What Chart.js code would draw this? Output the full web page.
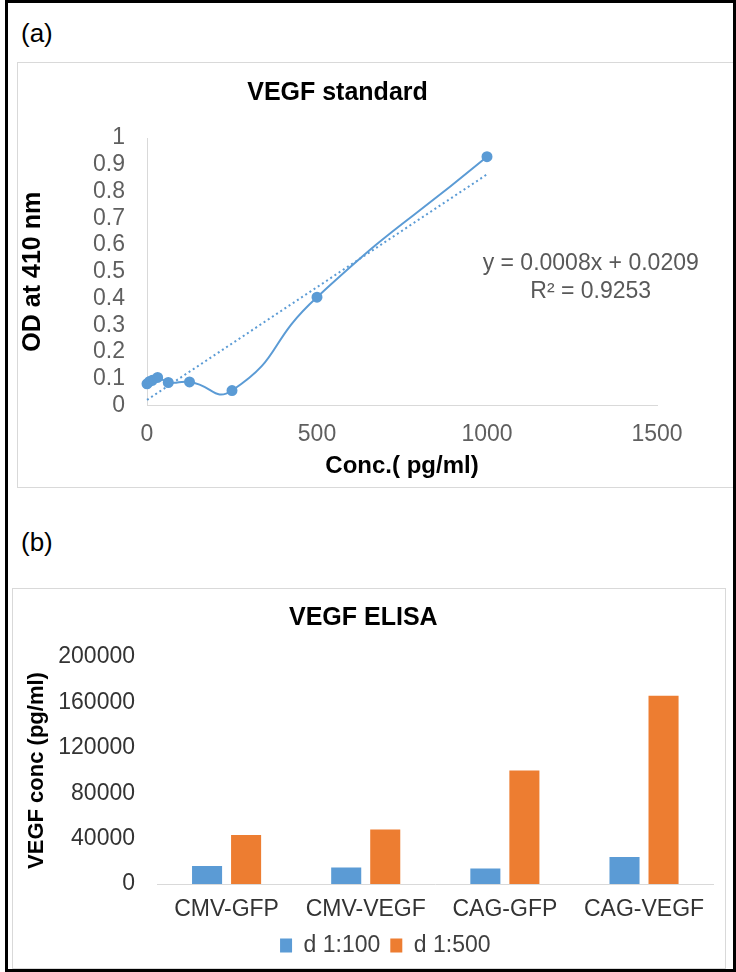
<!DOCTYPE html>
<html>
<head>
<meta charset="utf-8">
<script src="https://cdn.jsdelivr.net/npm/chart.js@4/dist/chart.umd.min.js"></script>
<style>
    body { margin: 0; background: #fff; font-family: "Liberation Sans", Arial, sans-serif; }
    #page { position: relative; width: 736px; height: 972px; overflow: hidden; }
    .frame { position: absolute; left: 5px; top: 0; width: 731px; height: 972px; border: 3px solid #000; box-sizing: border-box; }
    .box { position: absolute; border: 1px solid #d9d9d9; box-sizing: border-box; }
    .tag { position: absolute; font-size: 26px; color: #000; }
    canvas { position: absolute; }
</style>
</head>
<body>
<div id="page">
    <div class="box" style="left:17px; top:62px; width:720px; height:426px;"></div>
    <div class="box" style="left:12px; top:588px; width:714px; height:381px;"></div>
    <div class="frame"></div>
    <div class="tag" style="left:21px; top:18px;">(a)</div>
    <div class="tag" style="left:21px; top:527px;">(b)</div>
    <canvas id="stdChart" width="715" height="424" style="left:18px; top:63px;"></canvas>
    <canvas id="elisaChart" width="711" height="378" style="left:13px; top:589px;"></canvas>
</div>
<script>
// (a) standard curve
const stdConc = [0, 7.8, 15.6, 31.25, 62.5, 125, 250, 500, 1000];
const stdOD = [0.081, 0.09, 0.094, 0.105, 0.086, 0.088, 0.056, 0.405, 0.93];
const trendConc = [0, 1000];
const trendOD = [0.0209, 0.864];
const eqLines = ["y = 0.0008x + 0.0209", "R² = 0.9253"];

// (b) ELISA
const groups = ["CMV-GFP", "CMV-VEGF", "CAG-GFP", "CAG-VEGF"];
const dil100 = [15900, 14500, 13600, 23700];
const dil500 = [43200, 48100, 100000, 165800];

const FONT = "'Liberation Sans', Arial, sans-serif";
const BLUE = "#5B9BD5";
const ORANGE = "#ED7D31";
const AXIS = "#d9d9d9";

Chart.defaults.font.family = FONT;
Chart.defaults.animation = false;

const toPts = (xs, ys) => xs.map((x, i) => ({ x: x, y: ys[i] }));

const eqLabel = {
    id: "eqLabel",
    afterDatasetsDraw(chart) {
        const { ctx, scales } = chart;
        const cx = scales.x.getPixelForValue(1305);
        const cy = scales.y.getPixelForValue(0.53);
        ctx.save();
        ctx.font = "23px " + FONT;
        ctx.fillStyle = "#595959";
        ctx.textAlign = "center";
        ctx.textBaseline = "middle";
        eqLines.forEach((t, i) => ctx.fillText(t, cx, cy + i * 28));
        ctx.restore();
    }
};

new Chart(document.getElementById("stdChart"), {
    type: "scatter",
    data: {
        datasets: [{
            data: toPts(stdConc, stdOD),
            showLine: true,
            tension: 0.55,
            borderColor: BLUE,
            backgroundColor: BLUE,
            borderWidth: 2,
            pointRadius: 4.5,
            clip: false
        }, {
            data: toPts(trendConc, trendOD),
            showLine: true,
            borderColor: BLUE,
            borderWidth: 2,
            borderDash: [2, 3],
            pointRadius: 0,
            clip: false
        }]
    },
    options: {
        responsive: false,
        layout: { padding: { left: 0, right: 76, top: 0, bottom: 0 } },
        plugins: {
            legend: { display: false },
            tooltip: { enabled: false },
            title: {
                display: true,
                text: "VEGF standard",
                color: "#000",
                font: { size: 25, weight: "bold" },
                padding: { top: 15, bottom: 30 }
            }
        },
        scales: {
            x: {
                type: "linear",
                min: 0, max: 1500,
                grid: { display: false, drawTicks: false },
                border: { display: true, color: AXIS },
                ticks: { stepSize: 500, padding: 15, color: "#5f5f5f", font: { size: 23 }, callback: v => String(v) },
                title: { display: true, text: "Conc.( pg/ml)", color: "#000", font: { size: 24, weight: "bold" }, padding: { top: 0, bottom: 6 } },
                afterFit: s => { s.height = 81.5; }
            },
            y: {
                min: 0, max: 1,
                grid: { display: false, drawTicks: false },
                border: { display: true, color: AXIS },
                ticks: { stepSize: 0.1, autoSkip: false, padding: 22, color: "#5f5f5f", font: { size: 23 }, callback: v => String(Number(v.toFixed(1))) },
                title: { display: true, text: "OD at 410 nm", color: "#000", font: { size: 25, weight: "bold" }, padding: { top: 0, bottom: 0 } },
                afterFit: s => { s.width = 129; }
            }
        }
    },
    plugins: [eqLabel]
});

const legendShift = {
    id: "legendShift",
    afterLayout(chart) {
        chart.legend.left += 22;
        chart.legend.right += 22;
    }
};

new Chart(document.getElementById("elisaChart"), {
    type: "bar",
    data: {
        labels: groups,
        datasets: [
            { label: "d 1:100", data: dil100, backgroundColor: BLUE },
            { label: "d 1:500", data: dil500, backgroundColor: ORANGE }
        ]
    },
    options: {
        responsive: false,
        categoryPercentage: 0.561,
        barPercentage: 0.77,
        layout: { padding: { left: 0, right: 10.4, top: 0, bottom: 0 } },
        plugins: {
            tooltip: { enabled: false },
            title: {
                display: true,
                text: "VEGF ELISA",
                color: "#000",
                font: { size: 25, weight: "bold" },
                padding: { top: 14, bottom: 24 }
            },
            legend: {
                position: "bottom",
                labels: { boxWidth: 12, boxHeight: 14, padding: 10, color: "#404040", font: { size: 23 } }
            }
        },
        scales: {
            x: {
                grid: { display: false, drawTicks: false },
                border: { display: true, color: AXIS },
                ticks: { padding: 12, color: "#333", font: { size: 23 }, maxRotation: 0, autoSkip: false },
                afterFit: s => { s.height = 40; }
            },
            y: {
                min: 0, max: 200000,
                grid: { display: false, drawTicks: false },
                border: { display: false },
                ticks: { stepSize: 40000, padding: 22, color: "#333", font: { size: 23 }, callback: v => String(v) },
                title: { display: true, text: "VEGF conc (pg/ml)", color: "#000", font: { size: 22, weight: "bold" }, padding: { top: 11, bottom: 0 } },
                afterFit: s => { s.width = 144; }
            }
        }
    },
    plugins: [legendShift]
});
</script>
</body>
</html>
